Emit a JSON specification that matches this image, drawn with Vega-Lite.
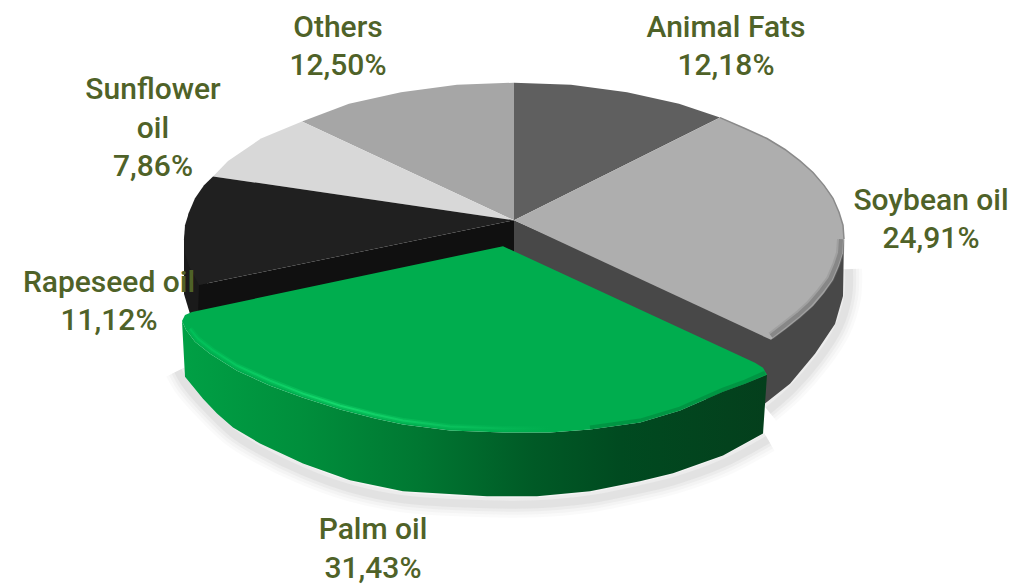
{"$schema":"https://vega.github.io/schema/vega-lite/v6.json","width":1019,"height":584,"padding":0,"autosize":{"type":"fit","contains":"padding"},"background":"white","view":{"stroke":null},
"datasets":{
"shadow":[{"s":"a","x":178,"y":372},{"x":186,"y":386,"s":"a"},{"s":"a","x":205,"y":408},{"s":"a","x":233,"y":435},{"s":"a","x":260,"y":452},{"s":"a","x":303,"y":473},{"s":"a","x":350,"y":490},{"s":"a","x":403,"y":501},{"s":"a","x":487,"y":506},{"s":"a","x":537,"y":506},{"s":"a","x":590,"y":501},{"s":"a","x":640,"y":491},{"s":"a","x":673,"y":483},{"s":"a","x":723,"y":465},{"s":"a","x":768,"y":441},
{"s":"b","x":768,"y":412},{"s":"b","x":792,"y":391},{"s":"b","x":818,"y":361},{"s":"b","x":838,"y":330},{"s":"b","x":848,"y":298},{"s":"b","x":849,"y":270}],
"parts":[
{"part":"greywall","x":514,"y":221},{"part":"greywall","x":770,"y":335},{"part":"greywall","x":844,"y":238},{"part":"greywall","x":843,"y":297},{"part":"greywall","x":835,"y":325},{"part":"greywall","x":815,"y":355},{"part":"greywall","x":790,"y":385},{"part":"greywall","x":765,"y":405},{"part":"greywall","x":700,"y":400},{"part":"greywall","x":514,"y":300},
{"part":"rapewall","x":189,"y":213},{"part":"rapewall","x":184,"y":240},{"part":"rapewall","x":184,"y":295},{"part":"rapewall","x":190,"y":315},{"part":"rapewall","x":215,"y":315},{"part":"rapewall","x":205,"y":275},
{"part":"rapeface","x":514,"y":221},{"part":"rapeface","x":199,"y":286},{"part":"rapeface","x":198,"y":315},{"part":"rapeface","x":514,"y":262},
{"part":"animal","x":514,"y":221},{"part":"animal","x":514,"y":83},{"part":"animal","x":571,"y":85},{"part":"animal","x":627,"y":92.5},{"part":"animal","x":679,"y":104},{"part":"animal","x":720,"y":118},
{"part":"soybean","x":514,"y":221},{"part":"soybean","x":720,"y":118},{"part":"soybean","x":745,"y":129},{"part":"soybean","x":767,"y":139},{"part":"soybean","x":785,"y":150},{"part":"soybean","x":800,"y":161.5},{"part":"soybean","x":813,"y":173},{"part":"soybean","x":824,"y":186},{"part":"soybean","x":833,"y":199},{"part":"soybean","x":839,"y":213},{"part":"soybean","x":843,"y":226},{"part":"soybean","x":844,"y":240},{"part":"soybean","x":843,"y":254},{"part":"soybean","x":839,"y":267},{"part":"soybean","x":833,"y":281},{"part":"soybean","x":824,"y":294},{"part":"soybean","x":813,"y":307},{"part":"soybean","x":800,"y":318.5},{"part":"soybean","x":786,"y":330},{"part":"soybean","x":771,"y":341},
{"part":"others","x":514,"y":221},{"part":"others","x":514,"y":83},{"part":"others","x":457,"y":85},{"part":"others","x":401,"y":92.5},{"part":"others","x":349,"y":104},{"part":"others","x":302,"y":122},
{"part":"sunflower","x":514,"y":221},{"part":"sunflower","x":302,"y":122},{"part":"sunflower","x":261,"y":139},{"part":"sunflower","x":228,"y":161.5},{"part":"sunflower","x":213,"y":177},
{"part":"rapeseed","x":514,"y":221},{"part":"rapeseed","x":213,"y":177},{"part":"rapeseed","x":204,"y":186},{"part":"rapeseed","x":195,"y":199},{"part":"rapeseed","x":189,"y":213},{"part":"rapeseed","x":185,"y":226},{"part":"rapeseed","x":184,"y":240},{"part":"rapeseed","x":185,"y":254},{"part":"rapeseed","x":189,"y":267},{"part":"rapeseed","x":199,"y":286}
],
"palmside":[{"x":182,"y":322},{"x":186,"y":331},{"x":195,"y":343},{"x":210,"y":355},{"x":237,"y":372},{"x":270,"y":387},{"x":303,"y":399},{"x":340,"y":411},{"x":375,"y":420},{"x":403,"y":426},{"x":450,"y":432},{"x":503,"y":434},{"x":550,"y":434},{"x":590,"y":431},{"x":640,"y":424},{"x":680,"y":412},{"x":723,"y":393},{"x":745,"y":385},{"x":767,"y":376},{"x":763,"y":435},{"x":723,"y":457},{"x":673,"y":475},{"x":640,"y":483},{"x":590,"y":493},{"x":537,"y":498},{"x":487,"y":498},{"x":403,"y":493},{"x":350,"y":482},{"x":303,"y":465},{"x":260,"y":445},{"x":233,"y":429},{"x":217,"y":415},{"x":203,"y":400},{"x":185,"y":378}],
"palmtop":[{"x":503,"y":247},{"x":192,"y":313},{"x":185,"y":316},{"x":182,"y":322},{"x":186,"y":331},{"x":195,"y":343},{"x":210,"y":355},{"x":237,"y":372},{"x":270,"y":387},{"x":303,"y":399},{"x":340,"y":411},{"x":375,"y":420},{"x":403,"y":426},{"x":450,"y":432},{"x":503,"y":434},{"x":550,"y":434},{"x":590,"y":431},{"x":640,"y":424},{"x":680,"y":412},{"x":723,"y":393},{"x":745,"y":385},{"x":767,"y":376},{"x":763,"y":369},{"x":755,"y":364}],
"highlight":[{"x":190,"y":330},{"x":198,"y":340},{"x":212,"y":351},{"x":237,"y":367},{"x":270,"y":382},{"x":303,"y":395},{"x":340,"y":407},{"x":375,"y":416},{"x":403,"y":422},{"x":450,"y":428},{"x":503,"y":430},{"x":550,"y":430}],
"rimdark":[{"x":590,"y":429},{"x":640,"y":422},{"x":680,"y":410},{"x":723,"y":391},{"x":745,"y":383},{"x":765,"y":374}],
"rimtop":[{"x":720,"y":118},{"x":745,"y":129},{"x":767,"y":139},{"x":785,"y":150},{"x":800,"y":161.5},{"x":813,"y":173},{"x":824,"y":186},{"x":833,"y":199},{"x":839,"y":213},{"x":843,"y":226},{"x":844,"y":240}],
"rimlow":[{"x":841,"y":240},{"x":840,"y":254},{"x":836,"y":266},{"x":830,"y":280},{"x":821,"y":292},{"x":810,"y":305},{"x":798,"y":316},{"x":784,"y":327},{"x":771,"y":337}],
"labels":[{"t":"Animal Fats","x":726,"y":28},{"t":"12,18%","x":726,"y":66},{"t":"Others","x":338,"y":28},{"t":"12,50%","x":338,"y":66},{"t":"Sunflower","x":153,"y":90},{"t":"oil","x":153,"y":129},{"t":"7,86%","x":153,"y":168},{"t":"Soybean oil","x":931,"y":202},{"t":"24,91%","x":931,"y":240},{"t":"Rapeseed oil","x":109,"y":284},{"t":"11,12%","x":109,"y":322},{"t":"Palm oil","x":373,"y":532},{"t":"31,43%","x":373,"y":571}]
},
"encoding":{"x":{"field":"x","type":"quantitative","scale":{"domain":[0,1019]},"axis":null},"y":{"field":"y","type":"quantitative","scale":{"domain":[584,0]},"axis":null}},
"layer":[
{"data":{"name":"shadow"},"transform":[{"window":[{"op":"row_number","as":"i"}],"groupby":["s"]}],"encoding":{"order":{"field":"i","type":"quantitative"},"detail":{"field":"s"}},"mark":{"type":"line","interpolate":"catmull-rom","stroke":"#8a8a8a","strokeWidth":26,"strokeOpacity":0.04,"strokeCap":"butt"}},
{"data":{"name":"shadow"},"transform":[{"window":[{"op":"row_number","as":"i"}],"groupby":["s"]}],"encoding":{"order":{"field":"i","type":"quantitative"},"detail":{"field":"s"}},"mark":{"type":"line","interpolate":"catmull-rom","stroke":"#8a8a8a","strokeWidth":20,"strokeOpacity":0.05,"strokeCap":"butt"}},
{"data":{"name":"shadow"},"transform":[{"window":[{"op":"row_number","as":"i"}],"groupby":["s"]}],"encoding":{"order":{"field":"i","type":"quantitative"},"detail":{"field":"s"}},"mark":{"type":"line","interpolate":"catmull-rom","stroke":"#8a8a8a","strokeWidth":14,"strokeOpacity":0.07,"strokeCap":"butt"}},
{"data":{"name":"shadow"},"transform":[{"window":[{"op":"row_number","as":"i"}],"groupby":["s"]}],"encoding":{"order":{"field":"i","type":"quantitative"},"detail":{"field":"s"}},"mark":{"type":"line","interpolate":"catmull-rom","stroke":"#8a8a8a","strokeWidth":8,"strokeOpacity":0.09,"strokeCap":"butt"}},
{"data":{"name":"parts"},"transform":[{"window":[{"op":"row_number","as":"i"}],"groupby":["part"]}],"mark":{"type":"line","filled":true,"strokeWidth":0},"encoding":{"order":{"field":"i","type":"quantitative"},"fill":{"field":"part","type":"nominal","legend":null,"scale":{"domain":["greywall","rapewall","rapeface","animal","soybean","others","sunflower","rapeseed"],"range":["#484848","#1a1a1a","#101010","#5f5f5f","#aeaeae","#a6a6a6","#d8d8d8","#202020"]}}}},
{"data":{"name":"rimtop"},"transform":[{"window":[{"op":"row_number","as":"i"}]}],"encoding":{"order":{"field":"i","type":"quantitative"}},"mark":{"type":"line","stroke":"#8a8a8a","strokeWidth":1.5}},
{"data":{"name":"rimlow"},"transform":[{"window":[{"op":"row_number","as":"i"}]}],"encoding":{"order":{"field":"i","type":"quantitative"}},"mark":{"type":"line","stroke":"#808080","strokeWidth":8,"strokeOpacity":0.3}},
{"data":{"name":"rimlow"},"transform":[{"window":[{"op":"row_number","as":"i"}]}],"encoding":{"order":{"field":"i","type":"quantitative"}},"mark":{"type":"line","stroke":"#6e6e6e","strokeWidth":4,"strokeOpacity":0.5}},
{"data":{"name":"palmside"},"transform":[{"window":[{"op":"row_number","as":"i"}]}],"encoding":{"order":{"field":"i","type":"quantitative"}},"mark":{"type":"line","filled":true,"strokeWidth":0,"fill":{"gradient":"linear","x1":0,"x2":1,"y1":0,"y2":0,"stops":[{"offset":0,"color":"#00a045"},{"offset":0.2,"color":"#008f3c"},{"offset":0.4,"color":"#007832"},{"offset":0.6,"color":"#005a26"},{"offset":0.75,"color":"#004a20"},{"offset":1,"color":"#043f1c"}]}}},
{"data":{"name":"palmtop"},"transform":[{"window":[{"op":"row_number","as":"i"}]}],"encoding":{"order":{"field":"i","type":"quantitative"}},"mark":{"type":"line","filled":true,"strokeWidth":0,"fill":"#00ad4e"}},
{"data":{"name":"rimdark"},"transform":[{"window":[{"op":"row_number","as":"i"}]}],"encoding":{"order":{"field":"i","type":"quantitative"}},"mark":{"type":"line","stroke":"#007a38","strokeWidth":4,"strokeOpacity":0.45}},
{"data":{"name":"highlight"},"transform":[{"window":[{"op":"row_number","as":"i"}]}],"encoding":{"order":{"field":"i","type":"quantitative"}},"mark":{"type":"line","strokeWidth":5,"strokeOpacity":0.4,"stroke":{"gradient":"linear","x1":0,"x2":1,"y1":0,"y2":0,"stops":[{"offset":0,"color":"#00bf58"},{"offset":0.4,"color":"#14d86c"},{"offset":1,"color":"#00ad4e"}]}}},
{"data":{"name":"highlight"},"transform":[{"window":[{"op":"row_number","as":"i"}]}],"encoding":{"order":{"field":"i","type":"quantitative"}},"mark":{"type":"line","strokeWidth":2,"stroke":{"gradient":"linear","x1":0,"x2":1,"y1":0,"y2":0,"stops":[{"offset":0,"color":"#00bf58"},{"offset":0.4,"color":"#14d86c"},{"offset":1,"color":"#00ad4e"}]}}},
{"data":{"name":"labels"},"mark":{"type":"text","font":"Roboto","fontWeight":500,"fontSize":30,"color":"#4f6228","align":"center","baseline":"middle"},"encoding":{"text":{"field":"t"}}}
]}
